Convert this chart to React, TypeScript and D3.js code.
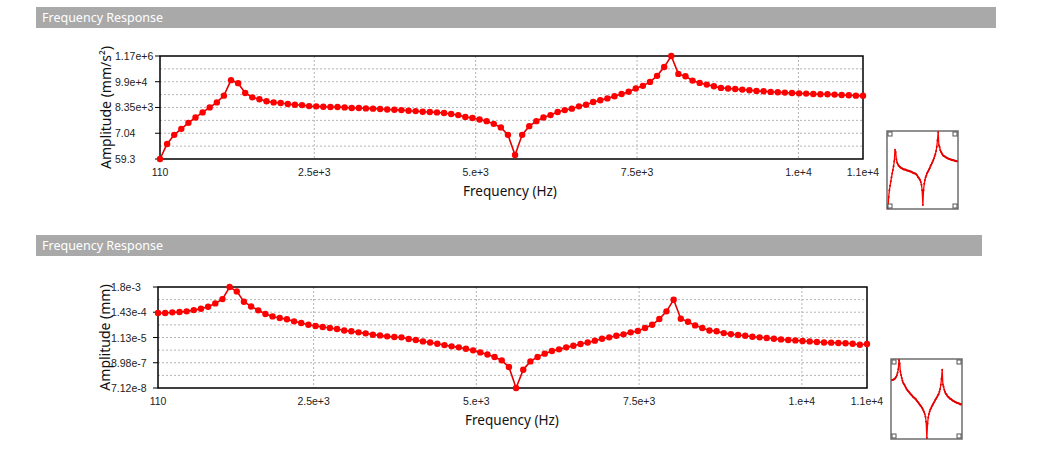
import React from "react";
import * as d3 from "d3";

// ---------- DATA ----------
const freqs = [
  110, 220, 330, 440, 550, 660, 770, 880, 990, 1100,
  1210, 1320, 1430, 1540, 1650, 1760, 1870, 1980, 2090, 2200,
  2310, 2420, 2530, 2640, 2750, 2860, 2970, 3080, 3190, 3300,
  3410, 3520, 3630, 3740, 3850, 3960, 4070, 4180, 4290, 4400,
  4510, 4620, 4730, 4840, 4950, 5060, 5170, 5280, 5390, 5500,
  5610, 5720, 5830, 5940, 6050, 6160, 6270, 6380, 6490, 6600,
  6710, 6820, 6930, 7040, 7150, 7260, 7370, 7480, 7590, 7700,
  7810, 7920, 8030, 8140, 8250, 8360, 8470, 8580, 8690, 8800,
  8910, 9020, 9130, 9240, 9350, 9460, 9570, 9680, 9790, 9900,
  10010, 10120, 10230, 10340, 10450, 10560, 10670, 10780, 10890, 11000,
];

// Acceleration amplitude (mm/s²)
const accelAmp = [
  59.3, 252, 603, 1070, 1910, 3210, 5210, 8430, 13600, 26000,
  115000, 86100, 33700, 22100, 18400, 15100, 13600, 12800, 11600, 10900,
  10500, 9550, 9310, 8970, 8750, 8750, 8430, 7930, 7930, 7640,
  7450, 7180, 6920, 6750, 6500, 6110, 5890, 5540, 5410, 5210,
  4900, 4440, 4020, 3340, 3020, 2640, 2250, 1730, 1230, 603,
  86.9, 603, 1390, 2250, 3210, 4020, 5410, 6500, 7450, 9310,
  10900, 14200, 16600, 20000, 24400, 30500, 38100, 51300, 66500, 97500,
  174000, 404000, 1170000, 210000, 168000, 110000, 88300, 75200, 64100, 54600,
  51300, 49400, 46500, 43700, 41000, 39500, 37200, 35800, 34900, 33700,
  32400, 31600, 30500, 29800, 29800, 28700, 27600, 27000, 26000, 26000,
];

// Displacement amplitude (mm)
const dispAmp = [
  1.32e-4, 1.32e-4, 1.41e-4, 1.47e-4, 1.56e-4, 1.77e-4, 2.04e-4, 2.49e-4, 3.47e-4, 5.33e-4,
  1.8e-3, 1.16e-3, 4.08e-4, 2.56e-4, 1.73e-4, 1.2e-4, 9.4e-5, 7.97e-5, 7.02e-5, 5.73e-5,
  4.86e-5, 4.07e-5, 3.59e-5, 3.24e-5, 2.93e-5, 2.65e-5, 2.3e-5, 2.11e-5, 1.9e-5, 1.72e-5,
  1.5e-5, 1.4e-5, 1.27e-5, 1.19e-5, 1.15e-5, 9.73e-6, 8.79e-6, 7.64e-6, 6.9e-6, 6.08e-6,
  5.29e-6, 4.66e-6, 4.21e-6, 3.66e-6, 3.11e-6, 2.54e-6, 2.07e-6, 1.59e-6, 1.14e-6, 5.83e-7,
  7.12e-8, 4.47e-7, 1.03e-6, 1.59e-6, 2.24e-6, 2.92e-6, 3.44e-6, 4.21e-6, 4.97e-6, 5.86e-6,
  6.9e-6, 8.25e-6, 9.98e-6, 1.15e-5, 1.35e-5, 1.55e-5, 1.9e-5, 2.16e-5, 2.93e-5, 4.07e-5,
  7.2e-5, 1.56e-4, 5.0e-4, 7.48e-5, 5.52e-5, 3.82e-5, 2.93e-5, 2.3e-5, 2.11e-5, 1.76e-5,
  1.59e-5, 1.46e-5, 1.35e-5, 1.22e-5, 1.15e-5, 1.08e-5, 9.98e-6, 9.36e-6, 8.79e-6, 8.46e-6,
  7.94e-6, 7.64e-6, 7.17e-6, 6.9e-6, 6.74e-6, 6.48e-6, 6.32e-6, 6.08e-6, 5.5e-6, 5.86e-6,
];

const xTickValues = [110, 2500, 5000, 7500, 10000, 11000];
const xTickLabels = ["110", "2.5e+3", "5.e+3", "7.5e+3", "1.e+4", "1.1e+4"];

const accelTickValues = [59.3, 703, 8350, 99000, 1170000];
const accelTickLabels = ["59.3", "7.04", "8.35e+3", "9.9e+4", "1.17e+6"];

const dispTickValues = [7.12e-8, 8.98e-7, 1.13e-5, 1.43e-4, 1.8e-3];
const dispTickLabels = ["7.12e-8", "8.98e-7", "1.13e-5", "1.43e-4", "1.8e-3"];

const panelTitle = "Frequency Response";
const xTitle = "Frequency (Hz)";
const accelTitle = "Amplitude (mm/s²)";
const dispTitle = "Amplitude (mm)";

// ---------- LAYOUT ----------
type PanelCfg = {
  header: { x: number; y: number; w: number; h: number };
  plot: { l: number; r: number; t: number; b: number };
  labelX: number;
  yTitleX: number;
  xTitleX: number;
  thumb: { l: number; r: number; t: number; b: number };
  values: number[];
  tickValues: number[];
  tickLabels: string[];
  yTitle: string;
};

const panels: PanelCfg[] = [
  {
    header: { x: 36, y: 7, w: 960, h: 21 },
    plot: { l: 160, r: 863, t: 56, b: 159 },
    labelX: 115,
    yTitleX: 111,
    xTitleX: 510,
    thumb: { l: 887, r: 958, t: 131, b: 209 },
    values: accelAmp,
    tickValues: accelTickValues,
    tickLabels: accelTickLabels,
    yTitle: accelTitle,
  },
  {
    header: { x: 36, y: 235, w: 946, h: 21 },
    plot: { l: 158, r: 867, t: 287, b: 388 },
    labelX: 111,
    yTitleX: 110,
    xTitleX: 512,
    thumb: { l: 891, r: 962, t: 359, b: 439 },
    values: dispAmp,
    tickValues: dispTickValues,
    tickLabels: dispTickLabels,
    yTitle: dispTitle,
  },
];

const FONT = "'Liberation Sans', Arial, sans-serif";
const TITLE_FONT = "'Noto Sans', 'Liberation Sans', sans-serif";
const RED = "#ff0000";

function Panel({ cfg }: { cfg: PanelCfg }) {
  const { plot, header, thumb } = cfg;
  const x = d3.scaleLinear().domain([xTickValues[0], xTickValues[xTickValues.length - 1]]).range([plot.l, plot.r]);
  const tv = cfg.tickValues;
  const y = d3.scaleLog().domain([tv[0], tv[tv.length - 1]]).range([plot.b, plot.t]);

  // grid lines: labelled ticks plus geometric midpoints
  const gridVals: number[] = [];
  tv.forEach((v, i) => {
    gridVals.push(v);
    if (i < tv.length - 1) gridVals.push(Math.sqrt(v * tv[i + 1]));
  });
  const hGrid = gridVals.slice(1, -1);
  const vGrid = xTickValues.slice(1, -1);

  const pts = freqs.map((f, i) => [f, cfg.values[i]] as [number, number]);
  const line = d3.line<[number, number]>().x((d) => x(d[0])).y((d) => y(d[1]));

  const tx = d3.scaleLinear().domain(x.domain()).range([thumb.l + 1, thumb.r - 1]);
  const ty = d3.scaleLog().domain(y.domain()).range([thumb.b - 1, thumb.t + 1]);
  const tline = d3.line<[number, number]>().x((d) => tx(d[0])).y((d) => ty(d[1]));
  const midY = (plot.t + plot.b) / 2;
  const cs = 4;
  const corners = [
    [thumb.l + 1, thumb.t + 1],
    [thumb.r - 1 - cs, thumb.t + 1],
    [thumb.l + 1, thumb.b - 1 - cs],
    [thumb.r - 1 - cs, thumb.b - 1 - cs],
  ];

  return (
    <g>
      <rect x={header.x} y={header.y} width={header.w} height={header.h} fill="#a9a9a9" />
      <text x={header.x + 6} y={header.y + 15} fill="#ffffff" fontFamily={TITLE_FONT} fontSize={12.5}>
        {panelTitle}
      </text>

      {hGrid.map((v, i) => (
        <line key={"h" + i} x1={plot.l} x2={plot.r} y1={y(v)} y2={y(v)} stroke="#b4b4b4" strokeDasharray="2,2" strokeWidth={1} />
      ))}
      {vGrid.map((v, i) => (
        <line key={"v" + i} x1={x(v)} x2={x(v)} y1={plot.t} y2={plot.b} stroke="#b4b4b4" strokeDasharray="2,2" strokeWidth={1} />
      ))}

      <rect x={plot.l} y={plot.t} width={plot.r - plot.l} height={plot.b - plot.t} fill="none" stroke="#000" strokeWidth={1.5} />

      {tv.map((v, i) => (
        <g key={"yt" + i}>
          <line x1={plot.l - 5} x2={plot.l} y1={y(v)} y2={y(v)} stroke="#000" strokeWidth={1} />
          <text x={cfg.labelX} y={y(v) + 4} fontFamily={FONT} fontSize={10.5} fill="#222">
            {cfg.tickLabels[i]}
          </text>
        </g>
      ))}
      {xTickValues.map((v, i) => (
        <text key={"xt" + i} x={x(v)} y={plot.b + 17} textAnchor="middle" fontFamily={FONT} fontSize={10.5} fill="#222">
          {xTickLabels[i]}
        </text>
      ))}

      <text x={cfg.xTitleX} y={plot.b + 37} textAnchor="middle" fontFamily={TITLE_FONT} fontSize={13.5} fill="#111">
        {xTitle}
      </text>
      <text
        transform={`translate(${cfg.yTitleX},${midY}) rotate(-90)`}
        textAnchor="middle"
        fontFamily={TITLE_FONT}
        fontSize={14}
        fill="#111"
      >
        {cfg.yTitle}
      </text>

      <path d={line(pts) || ""} fill="none" stroke="#e00000" strokeWidth={1.6} />
      {pts.map((d, i) => (
        <circle key={"p" + i} cx={x(d[0])} cy={y(d[1])} r={3.2} fill={RED} />
      ))}

      {/* thumbnail */}
      <rect x={thumb.l} y={thumb.t} width={thumb.r - thumb.l} height={thumb.b - thumb.t} fill="#fff" stroke="#6e6e6e" strokeWidth={1.5} />
      <path d={tline(pts) || ""} fill="none" stroke={RED} strokeWidth={1.3} />
      {pts.map((d, i) => (
        <circle key={"tp" + i} cx={tx(d[0])} cy={ty(d[1])} r={1} fill="#e00000" />
      ))}
      {corners.map((c, i) => (
        <rect key={"c" + i} x={c[0]} y={c[1]} width={cs} height={cs} fill="#fff" stroke="#555" strokeWidth={1} />
      ))}
    </g>
  );
}

export default function App() {
  return (
    <div style={{ position: "absolute", left: 0, top: 0 }}>
      <svg width={1047} height={458} style={{ display: "block", background: "#fff" }}>
        {panels.map((p, i) => (
          <Panel key={i} cfg={p} />
        ))}
      </svg>
    </div>
  );
}
